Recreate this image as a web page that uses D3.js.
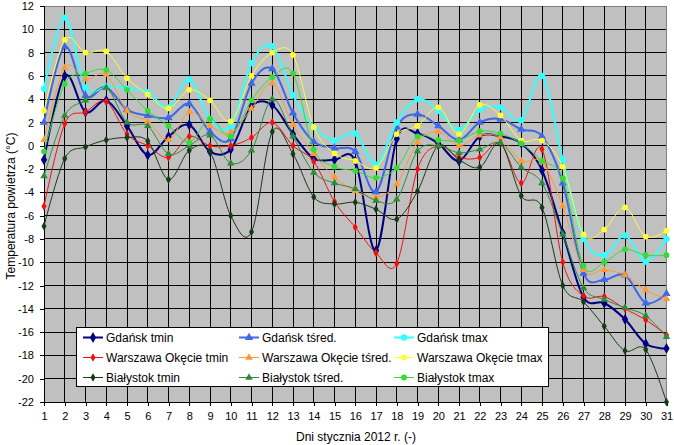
<!DOCTYPE html>
<html><head><meta charset="utf-8">
<script src="https://cdn.jsdelivr.net/npm/d3@7"></script>
<style>body{margin:0;background:#fff}svg{display:block;font-family:Arial,"Liberation Sans",sans-serif}</style>
</head><body><svg id="c" width="674" height="445"></svg>
<script>
const days = d3.range(1, 32);
const yTicks = d3.range(-22, 13, 2);
const gdanskMin = [-1.2,6.0,2.9,3.9,1.7,-0.8,0.8,1.8,-0.5,-0.3,3.4,3.5,1.0,-1.1,-1.2,-1.3,-9.0,0.6,1.05,0.2,-1.3,0.8,0.8,0.2,-2.1,-7.5,-13.0,-13.5,-14.9,-17.0,-17.4];
const gdanskAvg = [2.0,8.5,4.3,5.0,3.1,2.6,2.4,3.6,1.2,0.6,5.35,6.6,2.8,0.35,-0.2,-0.5,-3.95,1.6,2.7,1.7,0.5,2.0,2.3,1.4,0.8,-3.2,-10.95,-11.5,-11.1,-13.5,-12.7];
const gdanskMax = [4.9,11.0,5.0,5.1,4.9,4.6,3.3,5.7,2.3,1.7,7.1,8.55,4.35,1.6,0.45,1.05,-1.6,2.0,4.0,3.0,1.35,3.1,3.3,2.2,6.0,-1.2,-8.0,-9.4,-7.7,-9.95,-8.0];
const warszMin = [-5.2,1.9,2.9,3.8,1.0,0.0,-1.0,0.8,0.0,0.0,0.7,2.0,0.0,-1.35,-4.8,-7.0,-9.2,-10.1,-2.0,0.0,-1.0,-1.0,0.2,-3.2,-0.3,-10.0,-12.9,-12.95,-14.0,-14.95,-16.25];
const warszAvg = [0.5,6.7,5.7,6.1,3.0,2.1,0.5,2.9,1.7,1.1,3.2,5.35,1.8,-0.7,-2.7,-3.9,-4.45,-3.3,0.3,1.2,0.0,0.9,0.7,-1.3,-1.4,-5.2,-10.65,-10.65,-11.1,-12.4,-13.15];
const warszMax = [3.0,9.1,8.0,8.1,5.8,4.4,3.2,4.8,3.9,2.1,6.0,8.0,7.8,1.6,-0.65,-1.3,-1.9,1.0,1.7,3.3,1.0,3.5,2.6,0.45,0.45,-1.8,-7.6,-7.2,-5.3,-7.8,-7.3];
const bialMin = [-6.9,-1.1,-0.1,0.5,0.7,0.4,-2.9,-0.4,-0.5,-6.0,-7.4,1.2,-0.7,-4.4,-5.0,-4.85,-5.45,-6.3,-3.9,0.0,-1.2,-1.85,0.2,-4.3,-5.3,-12.0,-13.4,-15.5,-17.6,-17.5,-22.0];
const bialAvg = [-2.6,2.6,3.9,5.0,2.0,1.7,-0.7,0.0,0.9,-1.5,-0.4,4.0,0.8,-2.3,-3.2,-3.7,-4.7,-4.6,-0.45,0.0,-0.6,-0.3,0.25,-1.85,-3.2,-7.6,-12.2,-13.2,-13.9,-14.6,-16.4];
const bialMax = [-0.5,5.3,6.2,6.5,4.8,3.0,1.7,0.3,2.3,0.8,3.9,5.9,6.2,-0.3,-1.8,-2.15,-2.75,-1.9,0.8,0.5,0.45,1.25,1.05,0.2,-1.3,-2.8,-10.3,-10.0,-8.9,-9.4,-9.4];
const seriesNames = ["Gdańsk tmin","Gdańsk tśred.","Gdańsk tmax","Warszawa Okęcie tmin","Warszawa Okęcie tśred.","Warszawa Okęcie tmax","Białystok tmin","Białystok tśred.","Białystok tmax"];

const series = [
  {name:seriesNames[0], v:gdanskMin, c:"#000080", w:2, m:"diamond", s:34},
  {name:seriesNames[1], v:gdanskAvg, c:"#3d68e6", w:2, m:"triangle", s:30},
  {name:seriesNames[2], v:gdanskMax, c:"#33ffff", w:2, m:"circle", s:32},
  {name:seriesNames[3], v:warszMin, c:"#ee1111", w:1, m:"diamond", s:22},
  {name:seriesNames[4], v:warszAvg, c:"#ff9933", w:1, m:"triangle", s:24},
  {name:seriesNames[5], v:warszMax, c:"#ffff33", w:1, m:"circle", s:26},
  {name:seriesNames[6], v:bialMin, c:"#173a17", w:1, m:"diamond", s:22},
  {name:seriesNames[7], v:bialAvg, c:"#2f8a3a", w:1, m:"triangle", s:24},
  {name:seriesNames[8], v:bialMax, c:"#33dd33", w:1, m:"circle", s:26}
];
const symMap = {diamond:d3.symbolDiamond, triangle:d3.symbolTriangle, circle:d3.symbolCircle};

const svg = d3.select("#c");
const L=44, R=666.5, T=6, B=402;
const x = d3.scaleLinear().domain([1,31]).range([L,R]);
const y = d3.scaleLinear().domain([-22,12]).range([B,T]);

svg.append("rect").attr("x",L).attr("y",T).attr("width",R-L).attr("height",B-T).attr("fill","#c0c0c0");
// grid
svg.append("g").selectAll("line").data(yTicks).join("line")
  .attr("x1",L).attr("x2",R).attr("y1",d=>y(d)).attr("y2",d=>y(d))
  .attr("stroke",d=>d===12?"#808080":"#000").attr("stroke-width",1).attr("shape-rendering","crispEdges");
svg.append("g").selectAll("line").data(days).join("line")
  .attr("x1",d=>x(d)).attr("x2",d=>x(d)).attr("y1",T).attr("y2",B)
  .attr("stroke",d=>d===31?"#808080":"#000").attr("stroke-width",1).attr("shape-rendering","crispEdges");

// axes
const yAxis = d3.axisLeft(y).tickValues(yTicks).tickSize(4).tickPadding(6);
const gy = svg.append("g").attr("transform",`translate(${L},0)`).call(yAxis);
const xAxis = d3.axisBottom(x).tickValues(days).tickSize(4).tickPadding(6).tickFormat(d3.format("d"));
const gx = svg.append("g").attr("transform",`translate(0,${B})`).call(xAxis);
[gx,gy].forEach(g=>{
  g.select(".domain").attr("stroke","#000").attr("shape-rendering","crispEdges");
  g.selectAll(".tick line").attr("stroke","#000").attr("shape-rendering","crispEdges");
  g.selectAll("text").attr("font-size",11).attr("fill","#000").attr("font-family","Arial, 'Liberation Sans', sans-serif");
});
gy.selectAll(".tick text").text(d=>d<0?"-"+Math.abs(d):d);

svg.append("text").attr("x",356).attr("y",441).attr("text-anchor","middle").attr("font-size",12).text("Dni stycznia 2012 r. (-)");
svg.append("text").attr("transform","translate(15,206) rotate(-90)").attr("text-anchor","middle").attr("font-size",12).text("Temperatura powietrza (°C)");

const line = d3.line().x((d,i)=>x(days[i])).y(d=>y(d)).curve(d3.curveCardinal.tension(0));
const sg = svg.append("g");
series.forEach(s=>{
  sg.append("path").attr("d",line(s.v)).attr("fill","none").attr("stroke",s.c).attr("stroke-width",s.w);
  sg.append("g").selectAll("path").data(s.v).join("path")
    .attr("transform",(d,i)=>`translate(${x(days[i])},${y(d)})`)
    .attr("d",d3.symbol(symMap[s.m],s.s)).attr("fill",s.c);
});

// legend
const lg = svg.append("g");
lg.append("rect").attr("x",76.5).attr("y",327.5).attr("width",472).attr("height",59).attr("fill","#fff").attr("stroke","#000").attr("stroke-width",1);
const colX=[83,239,394], rowY=[337.5,357.5,377.5];
series.forEach((s,i)=>{
  const cx=colX[i%3], cy=rowY[Math.floor(i/3)];
  lg.append("line").attr("x1",cx).attr("x2",cx+20).attr("y1",cy).attr("y2",cy).attr("stroke",s.c).attr("stroke-width",s.w);
  lg.append("path").attr("transform",`translate(${cx+10},${cy})`).attr("d",d3.symbol(symMap[s.m],s.s)).attr("fill",s.c);
  lg.append("text").attr("x",cx+23).attr("y",cy+4.5).attr("font-size",12).text(s.name);
});
</script></body></html>
